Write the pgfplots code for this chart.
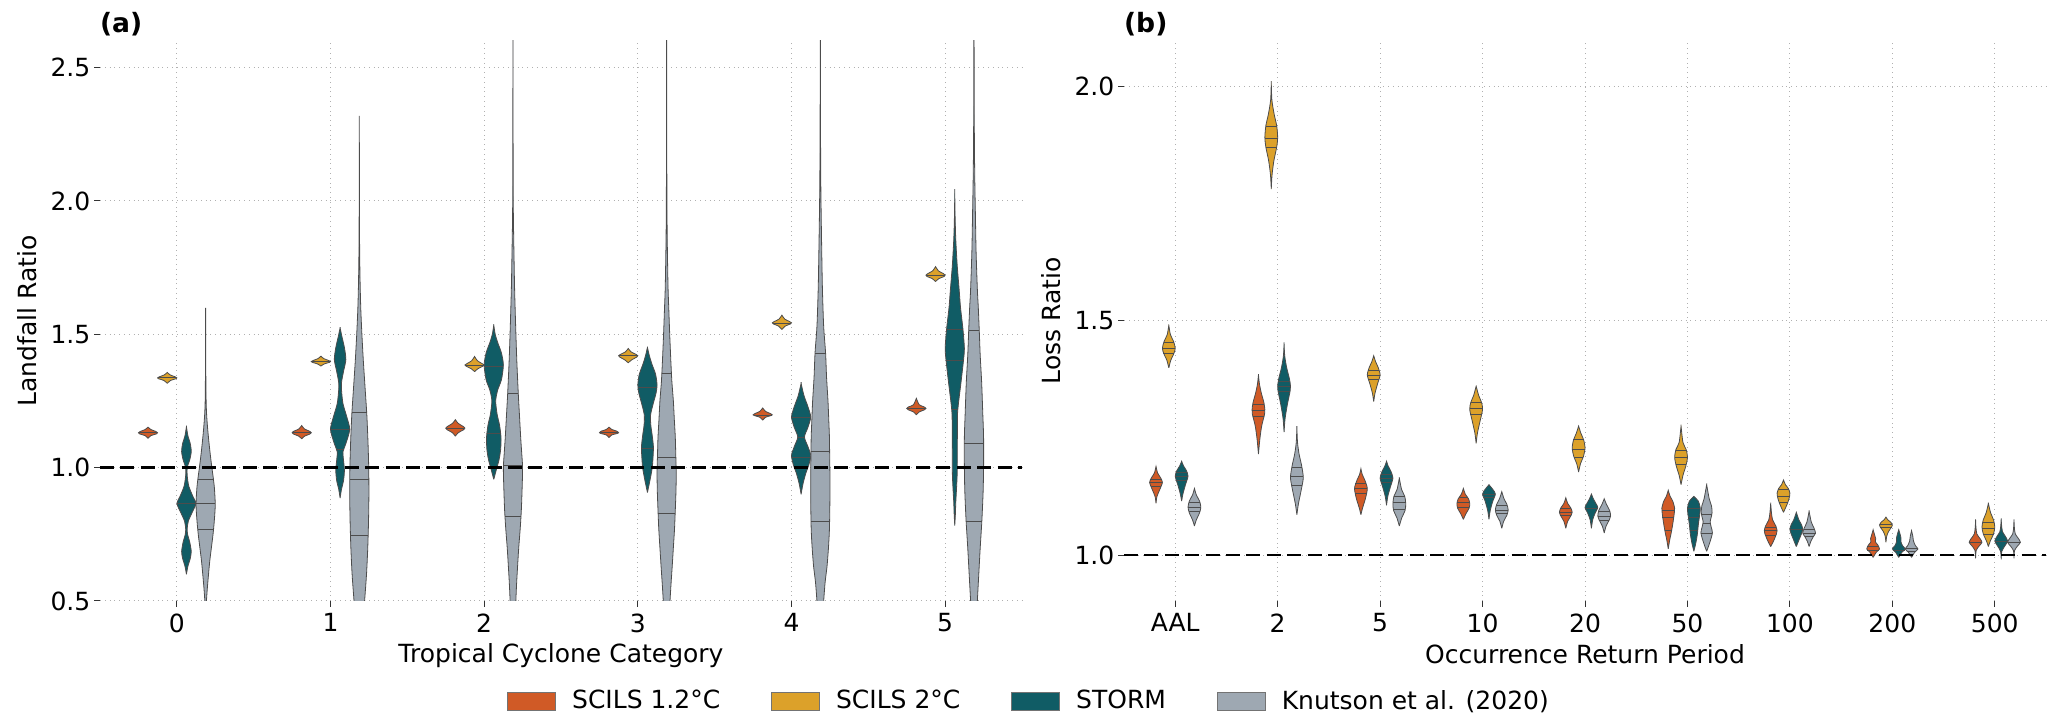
\documentclass[border=0pt]{standalone}
\usepackage{fontspec}
\setmainfont{DejaVu Sans}
\usepackage{pgfplots}
\pgfplotsset{compat=1.18}

\definecolor{orangeC}{RGB}{208,90,38}
\definecolor{goldC}{RGB}{220,161,42}
\definecolor{tealC}{RGB}{16,92,101}
\definecolor{grayC}{RGB}{158,168,178}
\definecolor{gridC}{RGB}{176,176,176}

\newcommand{\fs}{\fontsize{12.5}{15}\selectfont}
\def\vw{0.0625}

% violin: centre, colour, y/halfwidth list (bottom to top), quartile y/halfwidth list
\newcommand{\violin}[4]{%
  \gdef\vR{}\gdef\vL{}%
  \foreach \yy/\rr in {#3}{%
    \pgfmathsetmacro\xa{#1+\vw*\rr}%
    \pgfmathsetmacro\xb{#1-\vw*\rr}%
    \xdef\vR{\vR(\xa,\yy)}%
    \xdef\vL{(\xb,\yy)\vL}%
  }%
  \edef\vcmd{\noexpand\addplot[vbody,fill=#2] coordinates {\vR\vL};}%
  \vcmd
  \foreach \qq/\rr in {#4}{%
    \pgfmathsetmacro\xa{#1+\vw*\rr}%
    \pgfmathsetmacro\xb{#1-\vw*\rr}%
    \edef\vcmd{\noexpand\addplot[vline] coordinates {(\xb,\qq)(\xa,\qq)};}%
    \vcmd
  }%
}

\pgfplotsset{
  vbody/.style={draw=black!70, line width=0.4pt, smooth, tension=0.45, forget plot},
  vline/.style={draw=black!70, line width=0.35pt, forget plot},
  base/.style={
    width=461pt, height=280pt, scale only axis,
    axis line style={draw=none},
    tick pos=left, tick align=outside,
    major tick length=2.8pt,
    tick style={black!80, line width=0.5pt},
    grid=major,
    grid style={gridC, dotted, line width=0.5pt},
    tick label style={font=\fs, black},
    label style={font=\fs},
    title style={at={(axis description cs:0,1)}, anchor=base west, yshift=-2pt, xshift=-3.5pt,
      font=\bfseries\fontsize{13.3}{16}\selectfont},
    xlabel style={at={(axis description cs:0.5,0)}, anchor=base, yshift=-31pt},
    ylabel style={at={(axis description cs:-0.0786,0.5)}, anchor=center},
    yticklabel style={xshift=1.5pt, /pgf/number format/.cd, fixed, fixed zerofill, precision=1,
      assume math mode=true},
    xticklabel style={/pgf/number format/assume math mode=true},
  },
}

\begin{document}
\begin{tikzpicture}
\useasboundingbox (0,0) rectangle (1028pt,358.5pt);

% ---------------- (a) ----------------
\begin{axis}[base, at={(50pt,58pt)}, anchor=south west,
  xmin=-0.5, xmax=5.5, ymin=0.5, ymax=2.6,
  xtick={0,1,2,3,4,5}, ytick={0.5,1.0,1.5,2.0,2.5},
  xlabel={Tropical Cyclone Category}, ylabel={Landfall Ratio},
  title={(a)}]

% category 0
\violin{-0.1875}{orangeC}{1.11/0, 1.12/0.3, 1.127/0.9, 1.131/1, 1.136/0.8, 1.143/0.3, 1.152/0}{1.131/0.95}
\violin{-0.0625}{goldC}{1.316/0, 1.327/0.35, 1.334/0.95, 1.337/1, 1.341/0.8, 1.348/0.3, 1.357/0}{1.337/0.95}
\violin{0.0625}{tealC}{0.60/0, 0.63/0.15, 0.66/0.4, 0.686/0.5, 0.72/0.35, 0.75/0.12, 0.77/0.08, 0.80/0.2, 0.84/0.7, 0.866/1, 0.89/0.7, 0.93/0.25, 0.97/0.08, 1.0/0.08, 1.03/0.35, 1.06/0.5, 1.09/0.4, 1.12/0.15, 1.154/0}{0.866/1}
\violin{0.1875}{grayC}{0.5/0.08, 0.55/0.18, 0.6/0.3, 0.65/0.43, 0.7/0.6, 0.75/0.77, 0.8/0.9, 0.86/1, 0.92/0.92, 0.96/0.8, 1.0/0.65, 1.05/0.48, 1.1/0.33, 1.15/0.2, 1.2/0.1, 1.25/0.05, 1.35/0.02, 1.45/0.01, 1.586/0}{0.768/0.8, 0.865/1, 0.956/0.8}

% category 1
\violin{0.8125}{orangeC}{1.108/0, 1.118/0.3, 1.126/0.85, 1.131/1, 1.137/0.8, 1.145/0.3, 1.158/0}{1.131/0.95}
\violin{0.9375}{goldC}{1.381/0, 1.389/0.35, 1.395/0.9, 1.398/1, 1.402/0.8, 1.409/0.3, 1.418/0}{1.398/0.95}
\violin{1.0625}{tealC}{0.886/0, 0.92/0.15, 0.95/0.35, 0.99/0.45, 1.03/0.35, 1.06/0.3, 1.09/0.6, 1.143/1, 1.19/0.7, 1.24/0.3, 1.29/0.15, 1.32/0.15, 1.36/0.35, 1.405/0.6, 1.45/0.45, 1.49/0.2, 1.524/0}{1.07/0.35, 1.143/1}
\violin{1.1875}{grayC}{0.5/0.55, 0.6/0.75, 0.7/0.88, 0.8/0.96, 0.9/1, 1.0/0.98, 1.1/0.9, 1.2/0.78, 1.3/0.6, 1.4/0.42, 1.5/0.27, 1.6/0.15, 1.7/0.08, 1.8/0.04, 1.9/0.02, 2.1/0.01, 2.3/0}{0.747/0.92, 0.955/0.99, 1.207/0.77}

% category 2
\violin{1.8125}{orangeC}{1.118/0, 1.131/0.3, 1.142/0.85, 1.148/1, 1.155/0.8, 1.166/0.3, 1.18/0}{1.148/0.95}
\violin{1.9375}{goldC}{1.36/0, 1.371/0.35, 1.381/0.9, 1.385/1, 1.39/0.8, 1.401/0.3, 1.417/0}{1.385/0.95}
\violin{2.0625}{tealC}{0.956/0, 0.99/0.25, 1.03/0.55, 1.07/0.72, 1.115/0.75, 1.16/0.6, 1.2/0.35, 1.25/0.2, 1.29/0.4, 1.33/0.8, 1.385/1, 1.43/0.8, 1.47/0.4, 1.5/0.15, 1.535/0}{1.13/0.74, 1.381/1}
\violin{2.1875}{grayC}{0.5/0.3, 0.56/0.37, 0.63/0.48, 0.70/0.6, 0.77/0.75, 0.84/0.87, 0.92/0.95, 1.0/1, 1.06/0.9, 1.115/0.8, 1.2/0.67, 1.28/0.55, 1.4/0.4, 1.53/0.28, 1.67/0.17, 1.81/0.1, 1.95/0.04, 2.1/0.02, 2.3/0.01, 2.8/0.005}{0.816/0.84, 1.01/0.99, 1.278/0.55}

% category 3
\violin{2.8125}{orangeC}{1.113/0, 1.123/0.3, 1.128/0.85, 1.131/1, 1.137/0.8, 1.143/0.3, 1.152/0}{1.131/0.95}
\violin{2.9375}{goldC}{1.393/0, 1.404/0.35, 1.415/0.9, 1.42/1, 1.425/0.8, 1.434/0.3, 1.447/0}{1.42/0.95}
\violin{3.0625}{tealC}{0.907/0, 0.95/0.25, 1.0/0.5, 1.05/0.6, 1.08/0.62, 1.12/0.5, 1.16/0.35, 1.198/0.33, 1.24/0.6, 1.28/0.9, 1.31/1, 1.35/0.85, 1.39/0.45, 1.42/0.2, 1.451/0}{1.073/0.62, 1.303/1}
\violin{3.1875}{grayC}{0.5/0.35, 0.56/0.45, 0.63/0.58, 0.7/0.7, 0.77/0.82, 0.84/0.9, 0.91/0.97, 0.98/1, 1.05/0.95, 1.115/0.9, 1.18/0.8, 1.25/0.7, 1.32/0.55, 1.39/0.45, 1.5/0.32, 1.6/0.22, 1.67/0.15, 1.81/0.08, 1.946/0.04, 2.2/0.015, 2.8/0.005}{0.829/0.9, 1.039/0.96, 1.353/0.5}

% category 4
\violin{3.8125}{orangeC}{1.178/0, 1.189/0.3, 1.195/0.85, 1.198/1, 1.203/0.8, 1.211/0.3, 1.224/0}{1.198/0.95}
\violin{3.9375}{goldC}{1.518/0, 1.531/0.35, 1.539/0.9, 1.543/1, 1.548/0.8, 1.557/0.3, 1.572/0}{1.543/0.95}
\violin{4.0625}{tealC}{0.90/0, 0.94/0.2, 0.98/0.5, 1.01/0.8, 1.046/1, 1.08/0.7, 1.115/0.35, 1.15/0.7, 1.19/1, 1.23/0.7, 1.27/0.3, 1.316/0}{1.039/1, 1.115/0.35, 1.187/1}
\violin{4.1875}{grayC}{0.5/0.35, 0.57/0.5, 0.63/0.7, 0.7/0.85, 0.77/0.95, 0.88/1, 0.98/1, 1.06/0.97, 1.115/0.95, 1.18/0.88, 1.25/0.8, 1.34/0.65, 1.43/0.55, 1.53/0.35, 1.67/0.22, 1.81/0.15, 1.95/0.09, 2.08/0.05, 2.3/0.02, 2.8/0.005}{0.80/0.97, 1.06/0.97, 1.427/0.55}

% category 5
\violin{4.8125}{orangeC}{1.198/0, 1.209/0.3, 1.217/0.85, 1.222/1, 1.228/0.8, 1.236/0.3, 1.26/0}{1.222/0.95}
\violin{4.9375}{goldC}{1.698/0, 1.709/0.35, 1.717/0.9, 1.722/1, 1.728/0.8, 1.738/0.3, 1.754/0}{1.722/0.95}
\violin{5.0625}{tealC}{0.783/0, 0.83/0.07, 0.866/0.1, 0.92/0.18, 0.977/0.25, 1.05/0.26, 1.115/0.27, 1.21/0.3, 1.32/0.65, 1.4/0.9, 1.447/1, 1.52/0.85, 1.6/0.6, 1.67/0.45, 1.76/0.25, 1.86/0.1, 1.95/0.03, 2.036/0}{1.219/0.3, 1.403/0.92, 1.519/0.85}
\violin{5.1875}{grayC}{0.5/0.35, 0.6/0.5, 0.7/0.65, 0.8/0.82, 0.907/0.95, 1.0/1, 1.115/1, 1.2/0.92, 1.32/0.8, 1.42/0.65, 1.515/0.55, 1.6/0.45, 1.67/0.35, 1.81/0.22, 1.946/0.15, 2.07/0.09, 2.195/0.05, 2.4/0.02, 2.8/0.005}{0.80/0.82, 1.093/1, 1.515/0.55}

\addplot[black, line width=1.2pt, dash pattern=on 7pt off 3.2pt, forget plot] coordinates {(-0.5,1) (5.5,1)};
\end{axis}

% ---------------- (b) ----------------
\begin{axis}[base, at={(562pt,58pt)}, anchor=south west,
  xmin=-0.5, xmax=8.5, ymin=0.902, ymax=2.096,
  xtick={0,1,2,3,4,5,6,7,8},
  xticklabels={AAL,2,5,10,20,50,100,200,500},
  ytick={1.0,1.5,2.0},
  xlabel={Occurrence Return Period}, ylabel={Loss Ratio},
  title={(b)},
  legend image code/.code={\draw[#1, draw=black!55, line width=0.4pt] (0pt,-4.5pt) rectangle (24pt,4.5pt);},
  legend columns=4,
  legend style={at={(-0.104,-0.1786)}, anchor=center, draw=none, fill=none,
    font=\fs, nodes={inner sep=0pt},
    /tikz/every odd column/.append style={column sep=8pt},
    /tikz/every even column/.append style={column sep=25.5pt}},
  legend cell align=left]

% AAL
\violin{-0.1875}{orangeC}{1.11/0, 1.125/0.15, 1.14/0.6, 1.155/1, 1.165/0.7, 1.175/0.25, 1.189/0}{1.146/0.8, 1.154/1, 1.162/0.8}
\violin{-0.0625}{goldC}{1.399/0, 1.415/0.3, 1.43/0.8, 1.441/1, 1.455/0.75, 1.47/0.25, 1.49/0}{1.431/0.85, 1.441/1, 1.453/0.78}
\violin{0.0625}{tealC}{1.115/0, 1.13/0.2, 1.15/0.6, 1.168/1, 1.18/0.75, 1.19/0.3, 1.2/0}{1.16/0.85, 1.168/1, 1.176/0.85}
\violin{0.1875}{grayC}{1.062/0, 1.075/0.3, 1.09/0.8, 1.102/1, 1.115/0.8, 1.128/0.3, 1.142/0}{1.093/0.85, 1.102/1, 1.112/0.85}

% 2
\violin{0.8125}{orangeC}{1.215/0, 1.245/0.2, 1.275/0.5, 1.3/0.95, 1.31/1, 1.325/0.85, 1.345/0.45, 1.365/0.15, 1.384/0}{1.296/0.9, 1.309/1, 1.321/0.9}
\violin{0.9375}{goldC}{1.78/0, 1.81/0.12, 1.84/0.4, 1.87/0.85, 1.89/1, 1.915/0.85, 1.94/0.45, 1.97/0.1, 2.007/0}{1.87/0.85, 1.888/1, 1.913/0.87}
\violin{1.0625}{tealC}{1.262/0, 1.29/0.15, 1.32/0.5, 1.35/0.95, 1.36/1, 1.375/0.85, 1.4/0.4, 1.425/0.1, 1.451/0}{1.35/0.95, 1.36/1, 1.37/0.9}
\violin{1.1875}{grayC}{1.086/0, 1.11/0.25, 1.14/0.7, 1.165/1, 1.19/0.75, 1.215/0.35, 1.24/0.1, 1.272/0}{1.148/0.8, 1.167/1, 1.187/0.78}

% 5
\violin{1.8125}{orangeC}{1.086/0, 1.1/0.25, 1.12/0.7, 1.142/1, 1.16/0.6, 1.172/0.2, 1.184/0}{1.132/0.9, 1.142/1, 1.152/0.85}
\violin{1.9375}{goldC}{1.327/0, 1.345/0.2, 1.365/0.6, 1.384/1, 1.4/0.7, 1.412/0.3, 1.425/0}{1.374/0.85, 1.384/1, 1.393/0.85}
\violin{2.0625}{tealC}{1.106/0, 1.125/0.2, 1.145/0.6, 1.164/1, 1.178/0.7, 1.19/0.25, 1.2/0}{1.156/0.9, 1.164/1, 1.172/0.85}
\violin{2.1875}{grayC}{1.062/0, 1.08/0.4, 1.095/0.9, 1.11/1, 1.125/0.85, 1.14/0.35, 1.164/0}{1.098/0.95, 1.112/1, 1.126/0.85}

% 10
\violin{2.8125}{orangeC}{1.076/0, 1.088/0.4, 1.1/0.9, 1.11/1, 1.12/0.8, 1.13/0.3, 1.142/0}{1.102/0.95, 1.112/1, 1.122/0.75}
\violin{2.9375}{goldC}{1.238/0, 1.26/0.2, 1.285/0.6, 1.31/1, 1.325/0.85, 1.34/0.4, 1.36/0}{1.30/0.95, 1.313/1, 1.325/0.85}
\violin{3.0625}{tealC}{1.076/0, 1.095/0.2, 1.115/0.6, 1.13/1, 1.14/0.6, 1.15/0}{1.122/0.85, 1.13/1}
\violin{3.1875}{grayC}{1.057/0, 1.072/0.3, 1.085/0.8, 1.096/1, 1.108/0.8, 1.12/0.35, 1.135/0}{1.088/0.9, 1.096/1, 1.105/0.85}

% 20
\violin{3.8125}{orangeC}{1.057/0, 1.072/0.3, 1.085/0.85, 1.091/1, 1.1/0.8, 1.11/0.3, 1.122/0}{1.085/0.85, 1.092/1, 1.1/0.8}
\violin{3.9375}{goldC}{1.177/0, 1.195/0.3, 1.21/0.75, 1.228/1, 1.245/0.8, 1.26/0.35, 1.275/0}{1.208/0.7, 1.226/1, 1.246/0.8}
\violin{4.0625}{tealC}{1.057/0, 1.075/0.2, 1.09/0.6, 1.101/1, 1.11/0.7, 1.12/0.3, 1.13/0}{1.1/1}
\violin{4.1875}{grayC}{1.047/0, 1.062/0.3, 1.075/0.8, 1.083/1, 1.095/0.85, 1.108/0.35, 1.12/0}{1.073/0.8, 1.083/1, 1.093/0.85}

% 50
\violin{4.8125}{orangeC}{1.013/0, 1.03/0.2, 1.05/0.5, 1.07/0.75, 1.09/0.95, 1.1/1, 1.115/0.7, 1.125/0.3, 1.138/0}{1.052/0.52, 1.081/0.9, 1.096/1}
\violin{4.9375}{goldC}{1.15/0, 1.17/0.3, 1.19/0.75, 1.208/1, 1.225/0.8, 1.24/0.3, 1.275/0}{1.193/0.8, 1.208/1, 1.223/0.8}
\violin{5.0625}{tealC}{1.008/0, 1.025/0.3, 1.045/0.55, 1.065/0.7, 1.085/0.9, 1.1/1, 1.115/0.7, 1.125/0}{1.052/0.6, 1.08/0.85, 1.1/1}
\violin{5.1875}{grayC}{1.008/0, 1.025/0.45, 1.047/0.9, 1.06/0.7, 1.071/0.55, 1.08/0.7, 1.091/0.85, 1.105/0.75, 1.12/0.4, 1.15/0}{1.047/0.9, 1.067/0.6, 1.086/0.8}

% 100
\violin{5.8125}{orangeC}{1.018/0, 1.03/0.45, 1.045/0.9, 1.052/1, 1.062/0.8, 1.075/0.3, 1.09/0.12, 1.11/0}{1.043/0.9, 1.052/1, 1.06/0.85}
\violin{5.9375}{goldC}{1.091/0, 1.1/0.3, 1.113/0.7, 1.125/0.95, 1.132/1, 1.142/0.75, 1.15/0.3, 1.16/0}{1.113/0.7, 1.126/0.95, 1.139/0.8}
\violin{6.0625}{tealC}{1.018/0, 1.03/0.35, 1.045/0.8, 1.055/1, 1.065/0.8, 1.075/0.4, 1.091/0}{1.055/1}
\violin{6.1875}{grayC}{1.018/0, 1.03/0.3, 1.04/0.7, 1.047/1, 1.058/0.75, 1.07/0.35, 1.093/0}{1.04/0.7, 1.047/1, 1.055/0.8}

% 200
\violin{6.8125}{orangeC}{0.995/0, 1.006/0.5, 1.013/1, 1.022/0.7, 1.028/0.35, 1.035/0.4, 1.042/0.25, 1.054/0}{1.01/0.9, 1.018/0.9}
\violin{6.9375}{goldC}{1.027/0, 1.04/0.12, 1.05/0.4, 1.06/0.9, 1.064/1, 1.07/0.75, 1.075/0.3, 1.081/0}{1.06/0.9, 1.066/0.95}
\violin{7.0625}{tealC}{0.995/0, 1.006/0.5, 1.013/1, 1.02/0.6, 1.028/0.35, 1.036/0.35, 1.045/0.2, 1.054/0}{1.01/0.9}
\violin{7.1875}{grayC}{0.995/0, 1.006/0.5, 1.013/1, 1.02/0.6, 1.03/0.3, 1.04/0.2, 1.052/0}{1.008/0.7, 1.014/1}

% 500
\violin{7.8125}{orangeC}{0.993/0, 1.01/0.1, 1.02/0.6, 1.027/1, 1.035/0.7, 1.045/0.2, 1.06/0.05, 1.076/0}{1.027/1}
\violin{7.9375}{goldC}{1.018/0, 1.03/0.3, 1.045/0.8, 1.06/1, 1.075/0.8, 1.09/0.35, 1.11/0}{1.045/0.8, 1.057/1, 1.07/0.85}
\violin{8.0625}{tealC}{0.991/0, 1.008/0.1, 1.02/0.6, 1.03/1, 1.04/0.65, 1.05/0.2, 1.065/0.05, 1.078/0}{1.03/1}
\violin{8.1875}{grayC}{0.993/0, 1.01/0.1, 1.02/0.6, 1.027/1, 1.035/0.7, 1.045/0.2, 1.06/0.05, 1.076/0}{1.027/1}

\addplot[black, line width=1.2pt, dash pattern=on 7pt off 3.2pt, forget plot] coordinates {(-0.5,1) (8.5,1)};

\addlegendimage{fill=orangeC}\addlegendentry{SCILS 1.2°C}
\addlegendimage{fill=goldC}\addlegendentry{SCILS 2°C}
\addlegendimage{fill=tealC}\addlegendentry{STORM}
\addlegendimage{fill=grayC}\addlegendentry{Knutson et al. (2020)}
\end{axis}
\end{tikzpicture}
\end{document}
